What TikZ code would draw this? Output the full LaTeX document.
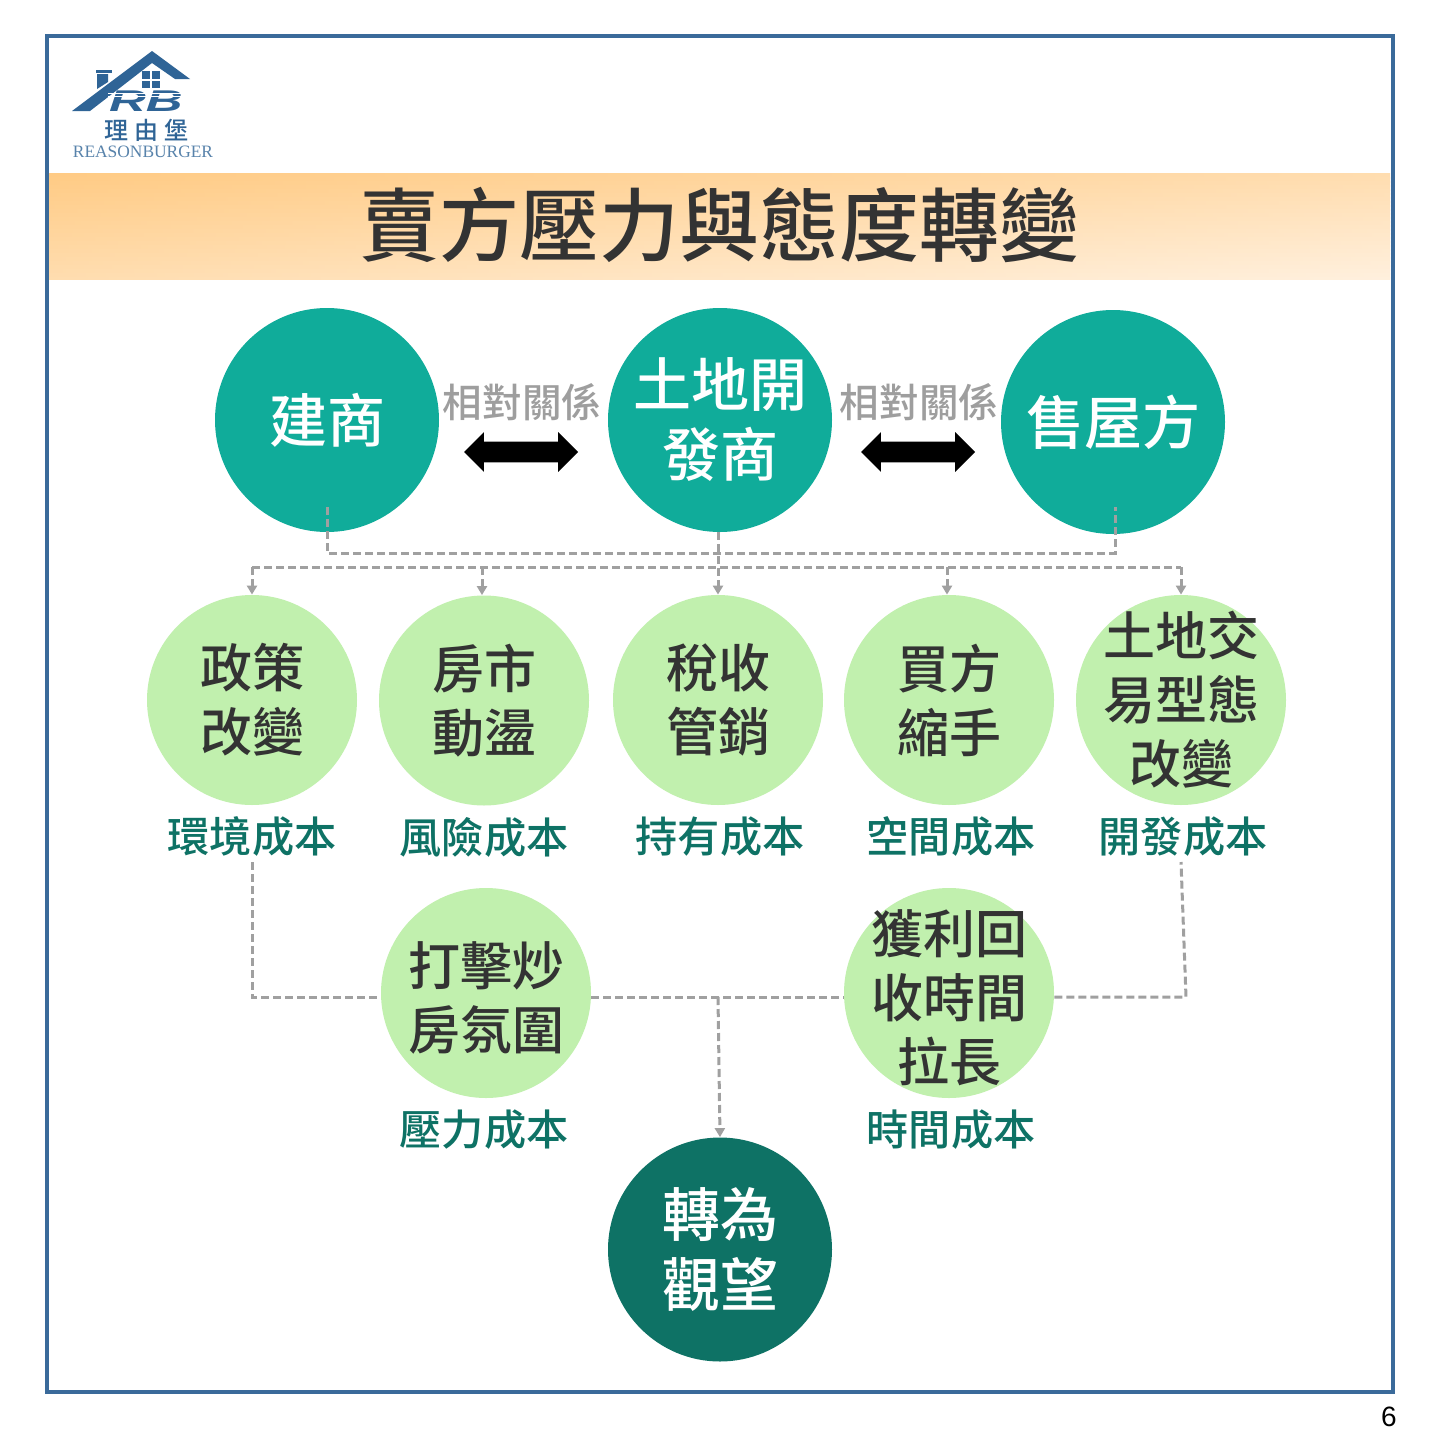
\documentclass[tikz,border=0pt]{standalone}
\usepackage{fontspec}
\setmainfont{Noto Sans CJK TC Medium}
\newfontfamily\logoserif{Liberation Serif}
\newfontfamily\logosans{Liberation Sans}
\usetikzlibrary{shapes.arrows, arrows.meta}
\usetikzlibrary{positioning}
\definecolor{frameblue}{HTML}{3A6A9A}
\definecolor{logoblue}{HTML}{2F6496}
\definecolor{teal1}{HTML}{10AC9A}
\definecolor{teal2}{HTML}{0E7265}
\definecolor{green1}{HTML}{C1F0AE}
\definecolor{ink}{HTML}{333333}
\definecolor{dashgray}{HTML}{A0A0A0}
\definecolor{band1}{HTML}{FFCB85}
\definecolor{band2}{HTML}{FFDDB0}
\definecolor{band3}{HTML}{FFF0DE}
\tikzstyle{big} = [circle, inner sep=-15pt, minimum size=112pt, align=center, text=white,
font=\fontsize{29}{35}\selectfont]
\tikzstyle{small} = [circle, inner sep=-15pt, minimum size=105pt, align=center, fill=green1,
text=ink, font=\fontsize{26}{32}\selectfont]
\tikzstyle{lowtext} = [align=center, inner sep=0pt, yshift=-2.5pt, text=ink,
font=\fontsize{26}{32}\selectfont]
\tikzstyle{cost} = [inner sep=0pt, text=teal2, font=\fontsize{21.1}{21}\selectfont]
\tikzstyle{rel} = [inner sep=0pt, text=black!38, font=\fontsize{19.8}{20}\selectfont]
\tikzstyle{both} = [double arrow, fill=black, inner sep=0pt, minimum height=57pt,
minimum width=19.5pt, double arrow head extend=4.75pt, text height=10pt, text depth=0pt]
\tikzstyle{dash1} = [draw=dashgray, line width=1.5pt, dash pattern=on 4pt off 2pt]
\tikzstyle{arrow} = [dash1, -{Triangle[length=4.5pt,width=5pt]}]

\begin{document}
\begin{tikzpicture}[x=.5pt, y=-.5pt]
  \useasboundingbox (0,0) rectangle (1440,1440);
  \fill[white] (0,0) rectangle (1440,1440);

  % band and frame
  \foreach \y in {173,177,...,277}{
    \pgfmathsetmacro{\q}{100-(\y-173)/1.06}
    \pgfmathsetmacro{\yend}{min(\y+5,279)}
    \shade[left color=band1!\q!band2, right color=band2!\q!band3]
    (49,\y) rectangle (1390,\yend);
  }
  \draw[frameblue, line width=2pt] (47,36) rectangle (1393,1392);
  \node (title) at (719,225) [inner sep=0pt, text=ink, font=\fontsize{40}{40}\selectfont]
  {賣方壓力與態度轉變};
  \node (page) at (1389,1417) [inner sep=0pt, font=\fontsize{14}{14}\selectfont\logosans] {6};

  % logo
  \fill[logoblue] (72,111) -- (152,51) -- (190,79) -- (175,79) -- (152,63) -- (90,111) -- cycle;
  \fill[logoblue] (97,74) -- (108,74) -- (108,82) -- (97,89) -- cycle;
  \fill[logoblue] (96,70) rectangle (112,73);
  \fill[logoblue] (142,71) rectangle (150,79);
  \fill[logoblue] (152,71) rectangle (160,79);
  \fill[logoblue] (142,81) rectangle (150,88);
  \fill[logoblue] (152,81) rectangle (160,88);
  \node (rb) at (146,101) [inner sep=0pt, xscale=1.7, text=logoblue,
  font=\fontsize{15}{15}\selectfont\logosans\bfseries\itshape] {RB};
  \draw[white, line width=.5pt] (108,93) -- (190,93);
  \draw[white, line width=.5pt] (108,96) -- (190,96);
  \node (brand) at (146,130) [inner sep=0pt, text=logoblue, font=\fontsize{12}{12}\selectfont]
  {理\hspace{3pt}由\hspace{3pt}堡};
  \node (brand2) at (143,152) [inner sep=0pt, text=logoblue!80, font=\fontsize{8.7}{9}\selectfont\logoserif]
  {REASONBURGER};

  % top row
  \node (builder) at (327,420) [big, fill=teal1] {建商};
  \node (land) at (720,420) [big, fill=teal1] {土地開\\發商};
  \node (seller) at (1113,422) [big, fill=teal1] {售屋方};

  \node (rel1) at (522,402) [rel] {相對關係};
  \node (rel2) at (919,402) [rel] {相對關係};
  \node (both1) at (521,452) [both] {};
  \node (both2) at (918,452) [both] {};

  % middle row
  \node (policy) at (252,700) [small] {政策\\改變};
  \node (market) at (484,700.5) [small] {房市\\動盪};
  \node (tax) at (718,700) [small] {稅收\\管銷};
  \node (buyer) at (949,700) [small] {買方\\縮手};
  \node (deal) at (1181,700) [small] {土地交\\易型態\\改變};

  \node (cost1) [cost, below=5.5pt of policy] {環境成本};
  \node (cost2) [cost, below=5.5pt of market] {風險成本};
  \node (cost3) [cost, below=5.5pt of tax, xshift=1pt] {持有成本};
  \node (cost4) [cost, below=5.5pt of buyer, xshift=1pt] {空間成本};
  \node (cost5) [cost, below=5.5pt of deal, xshift=1pt] {開發成本};

  % lower row
  \node (hype) at (486,993) [small, label={[lowtext]center:打擊炒\\房氛圍}] {};
  \node (payback) at (949,993) [small, label={[lowtext]center:獲利回\\收時間\\拉長}] {};
  \node (cost6) [cost, below=5.5pt of hype, xshift=-1pt] {壓力成本};
  \node (cost7) [cost, below=5.5pt of payback, xshift=1pt] {時間成本};
  \node (wait) at (720,1249.5) [big, fill=teal2] {轉為\\觀望};

  % joints
  \coordinate (bus1) at (327,553);
  \coordinate (bus2) at (1115,553);
  \coordinate (bus3) at (252,567);
  \coordinate (bus4) at (1181,567);
  \coordinate (low1) at (252,997);
  \coordinate (low2) at (1186,997);
  \coordinate (low3) at (718,997);
  \coordinate (up1) at (252,862);
  \coordinate (up2) at (1181,862);

  \draw[dash1] ([yshift=12.5pt]builder.south) -- (bus1) -- (bus2) -- ([xshift=1pt,yshift=13.5pt]seller.south);
  \draw[arrow] (tax.north |- land.south) -- (tax.north);
  \draw[dash1] (bus3) -- (bus4);
  \draw[arrow] (bus3) -- (policy.north);
  \draw[arrow] ([xshift=-1pt]market.north |- bus3) -- ([xshift=-1pt]market.north);
  \draw[arrow] ([xshift=-1pt]buyer.north |- bus3) -- ([xshift=-1pt]buyer.north);
  \draw[arrow] (bus4) -- (deal.north);

  \draw[dash1] (up1) -- (low1) -- (hype.west |- low1);
  \draw[dash1] (hype.east |- low1) -- (payback.west |- low1);
  \draw[dash1] (payback.east |- low1) -- (low2) -- (up2);
  \draw[arrow] (low3) -- (wait.north);
\end{tikzpicture}
\end{document}
